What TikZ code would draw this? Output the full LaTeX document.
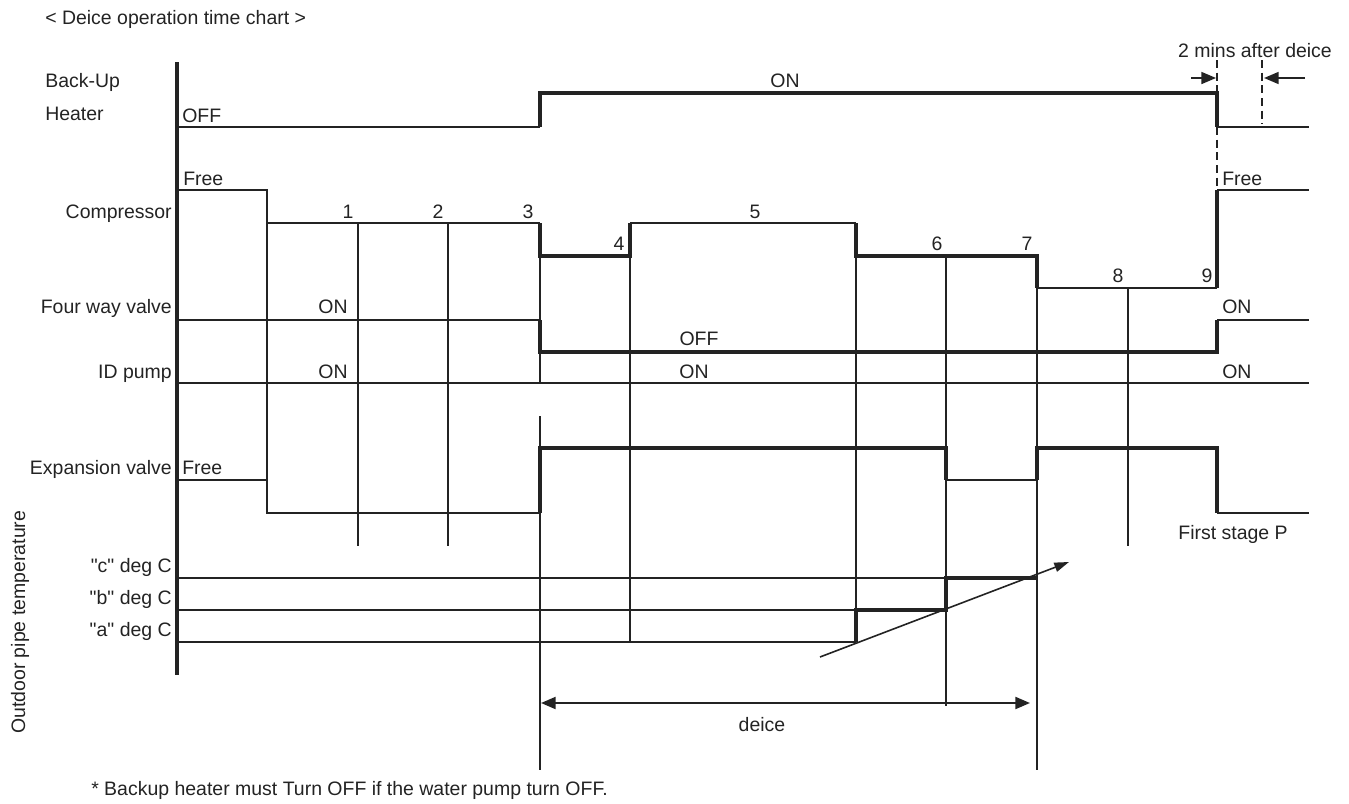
\documentclass[tikz,border=0pt]{standalone}
\usepackage{fontspec}
\setmainfont{Liberation Sans}
\newfontfamily\lsans{Liberation Sans}
\usetikzlibrary{arrows.meta}
\definecolor{ink}{RGB}{35,35,35}
\begin{document}
\begin{tikzpicture}[x=0.75pt,y=-0.75pt,
  lbl/.style={inner sep=0pt,font=\lsans\fontsize{14.6}{17}\selectfont,text=ink},
  axisline/.style={draw=ink,line width=3pt},
  sig/.style={draw=ink,line width=1.6pt},
  sigmid/.style={draw=ink,line width=2.1pt},
  sigbold/.style={draw=ink,line width=2.6pt},
  gridline/.style={draw=ink,line width=0.9pt},
  dashline/.style={draw=ink,line width=0.9pt,dash pattern=on 6pt off 3.5pt},
  bighead/.style={-{Triangle[length=11pt,width=9pt]}}
]
\useasboundingbox (0,0) rectangle (1349,803);

% ---------- title and footnote
\node[lbl,anchor=base west] (title) at (45,24) {< Deice operation time chart >};
\node[lbl,anchor=base west] (note) at (91,795) {* Backup heater must Turn OFF if the water pump turn OFF.};

% ---------- row labels
\node[lbl,anchor=base west] (bu1) at (45,87) {Back-Up};
\node[lbl,anchor=base west] (bu2) at (45,120) {Heater};
\node[lbl,anchor=base east] (comp) at (172,218) {Compressor};
\node[lbl,anchor=base east] (fwv) at (172,313) {Four way valve};
\node[lbl,anchor=base east] (idp) at (172,378) {ID pump};
\node[lbl,anchor=base east] (exv) at (172,474) {Expansion valve};
\node[lbl,anchor=base east] (tc) at (172,572) {"c" deg C};
\node[lbl,anchor=base east] (tb) at (172,604) {"b" deg C};
\node[lbl,anchor=base east] (ta) at (172,636) {"a" deg C};
\node[lbl,anchor=base west,rotate=90] (opt) at (25,734) {Outdoor pipe temperature};

% ---------- grid verticals (thin)
\draw[gridline] (267,190) -- (267,513);
\draw[gridline] (358,223) -- (358,546);
\draw[gridline] (448,223) -- (448,546);
\draw[gridline] (540,223) -- (540,383);
\draw[gridline] (540,416) -- (540,770);
\draw[gridline] (630,256) -- (630,642);
\draw[gridline] (856,256) -- (856,642);
\draw[gridline] (946,256) -- (946,706);
\draw[gridline] (1037,288) -- (1037,770);
\draw[gridline] (1128,288) -- (1128,546);

% ---------- axis
\draw[axisline] (177,62) -- (177,675);

% ---------- Back-Up heater
\draw[sig] (177,127) -- (540,127);
\draw[sigbold] (540,127) -- (540,93) -- (1217,93) -- (1217,127);
\draw[sig] (1217,127) -- (1309,127);
\node[lbl,anchor=base west] (off1) at (182,122) {OFF};
\node[lbl,anchor=base] (on1) at (785,87) {ON};

% dashed markers
\draw[dashline] (1217,60) -- (1217,93);
\draw[dashline] (1217,127) -- (1217,190);
\draw[dashline] (1262,60) -- (1262,124);
\draw[draw=ink,line width=1.3pt,bighead] (1191,78) -- (1216,78);
\draw[draw=ink,line width=1.3pt,bighead] (1305,78) -- (1264,78);
\node[lbl,anchor=base] (mins) at (1255,57) {2 mins after deice};

% ---------- Compressor
\draw[sig] (177,190) -- (267,190) -- (267,223) -- (540,223);
\draw[sigbold] (540,223) -- (540,256) -- (630,256) -- (630,223);
\draw[sigmid] (630,223) -- (856,223);
\draw[sigbold] (856,223) -- (856,256) -- (1037,256) -- (1037,288);
\draw[sig] (1037,288) -- (1217,288);
\draw[sigbold] (1217,288) -- (1217,190);
\draw[sig] (1217,190) -- (1309,190);
\node[lbl,anchor=base west] (free1) at (183,185) {Free};
\node[lbl,anchor=base west] (free2) at (1222,185) {Free};
\node[lbl,anchor=base] (n1) at (348,218) {1};
\node[lbl,anchor=base] (n2) at (438,218) {2};
\node[lbl,anchor=base] (n3) at (528,218) {3};
\node[lbl,anchor=base] (n4) at (619,250) {4};
\node[lbl,anchor=base] (n5) at (755,218) {5};
\node[lbl,anchor=base] (n6) at (937,250) {6};
\node[lbl,anchor=base] (n7) at (1027,250) {7};
\node[lbl,anchor=base] (n8) at (1118,282) {8};
\node[lbl,anchor=base] (n9) at (1207,282) {9};

% ---------- Four way valve
\draw[sig] (177,320) -- (540,320);
\draw[sigbold] (540,320) -- (540,352) -- (1217,352) -- (1217,320);
\draw[sig] (1217,320) -- (1309,320);
\node[lbl,anchor=base] (on2) at (333,313) {ON};
\node[lbl,anchor=base] (off2) at (699,345) {OFF};
\node[lbl,anchor=base west] (on3) at (1222,313) {ON};

% ---------- ID pump
\draw[sig] (177,383) -- (1309,383);
\node[lbl,anchor=base] (on4) at (333,378) {ON};
\node[lbl,anchor=base] (on5) at (694,378) {ON};
\node[lbl,anchor=base west] (on6) at (1222,378) {ON};

% ---------- Expansion valve
\draw[sig] (177,480) -- (267,480) -- (267,513) -- (540,513);
\draw[sigbold] (540,513) -- (540,448) -- (946,448) -- (946,480);
\draw[sigmid] (946,480) -- (1037,480);
\draw[sigbold] (1037,480) -- (1037,448) -- (1217,448) -- (1217,513);
\draw[sig] (1217,513) -- (1309,513);
\node[lbl,anchor=base west] (free3) at (182,474) {Free};
\node[lbl,anchor=base] (fsp) at (1233,539) {First stage P};

% ---------- Outdoor pipe temperature
\draw[gridline] (177,578) -- (1037,578);
\draw[gridline] (177,610) -- (946,610);
\draw[gridline] (177,642) -- (630,642);
\draw[sig] (630,642) -- (856,642);
\draw[sigbold] (856,642) -- (856,610) -- (946,610) -- (946,578) -- (1037,578);
\draw[draw=ink,line width=1.2pt,-{Triangle[length=11pt,width=7pt]}] (820,657) -- (1069,562);

% ---------- deice span
\draw[draw=ink,line width=1.6pt,{Triangle[length=11pt,width=9pt]}-{Triangle[length=11pt,width=9pt]}] (541,703) -- (1030,703);
\node[lbl,anchor=base] (deice) at (762,731) {deice};
\end{tikzpicture}
\end{document}
